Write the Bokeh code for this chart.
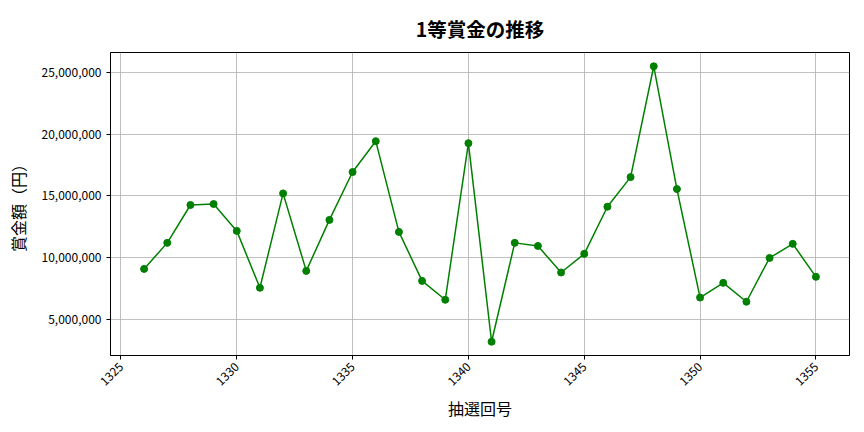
import math
from bokeh.plotting import figure
from bokeh.models import NumeralTickFormatter, FixedTicker, Range1d
from bokeh.embed import file_html
from bokeh.resources import INLINE

draws = list(range(1326, 1356))
prize = [9.07, 11.18, 14.25, 14.33, 12.15, 7.54, 15.19, 8.91, 13.04, 16.92,
         19.42, 12.07, 8.10, 6.57, 19.26, 3.17, 11.18, 10.93, 8.78, 10.29,
         14.11, 16.51, 25.49, 15.54, 6.75, 7.94, 6.41, 9.96, 11.10, 8.43]
prize = [v * 1_000_000 for v in prize]
x_ticks = [1325, 1330, 1335, 1340, 1345, 1350, 1355]
y_ticks = [5_000_000, 10_000_000, 15_000_000, 20_000_000, 25_000_000]
title_text = "1等賞金の推移"

FONT = "Noto Sans CJK JP"

xmin, xmax = min(draws), max(draws)
ymin, ymax = min(prize), max(prize)
xm = (xmax - xmin) * 0.05
ym = (ymax - ymin) * 0.05

p = figure(width=856, height=424, output_backend="svg", toolbar_location=None,
           x_range=Range1d(xmin - xm, xmax + xm), y_range=Range1d(ymin - ym, ymax + ym),
           title=title_text)
p.frame_width = 739
p.frame_height = 303
p.min_border_left = 110
p.min_border_right = 7
p.min_border_top = 52
p.min_border_bottom = 69

p.title.text_font = FONT
p.title.text_font_size = "19.5px"
p.title.text_font_style = "bold"
p.title.align = "center"
p.title.text_color = "#000000"
p.title.text_line_height = 0.8
p.title.standoff = 20

p.line(draws, prize, line_color="#008000", line_width=1.5)
p.scatter(draws, prize, size=7, fill_color="#008000", line_color="#008000")

p.xaxis.ticker = FixedTicker(ticks=x_ticks)
p.yaxis.ticker = FixedTicker(ticks=y_ticks)
p.yaxis.formatter = NumeralTickFormatter(format="0,0")
p.xaxis.major_label_orientation = math.pi / 4

for ax in (p.xaxis[0], p.yaxis[0]):
    ax.major_label_text_font = FONT
    ax.major_label_text_font_size = "12px"
    ax.major_label_text_color = "#000000"
    ax.axis_label_text_font = FONT
    ax.axis_label_text_font_size = "16px"
    ax.axis_label_text_font_style = "normal"
    ax.axis_label_text_color = "#000000"
    ax.major_tick_in = 0
    ax.major_tick_out = 4
    ax.minor_tick_line_color = None
    ax.axis_line_color = "#000000"
    ax.major_tick_line_color = "#000000"

p.xaxis.axis_label = "抽選回号"
p.yaxis.axis_label = "賞金額（円）"
p.xaxis.axis_label_standoff = 3
p.yaxis.axis_label_standoff = 9

p.grid.grid_line_color = "#b0b0b0"
p.grid.grid_line_width = 0.8
p.outline_line_color = "#000000"
p.outline_line_width = 1
p.background_fill_color = "white"
p.border_fill_color = "white"

open("out.html", "w").write(file_html(p, INLINE))
